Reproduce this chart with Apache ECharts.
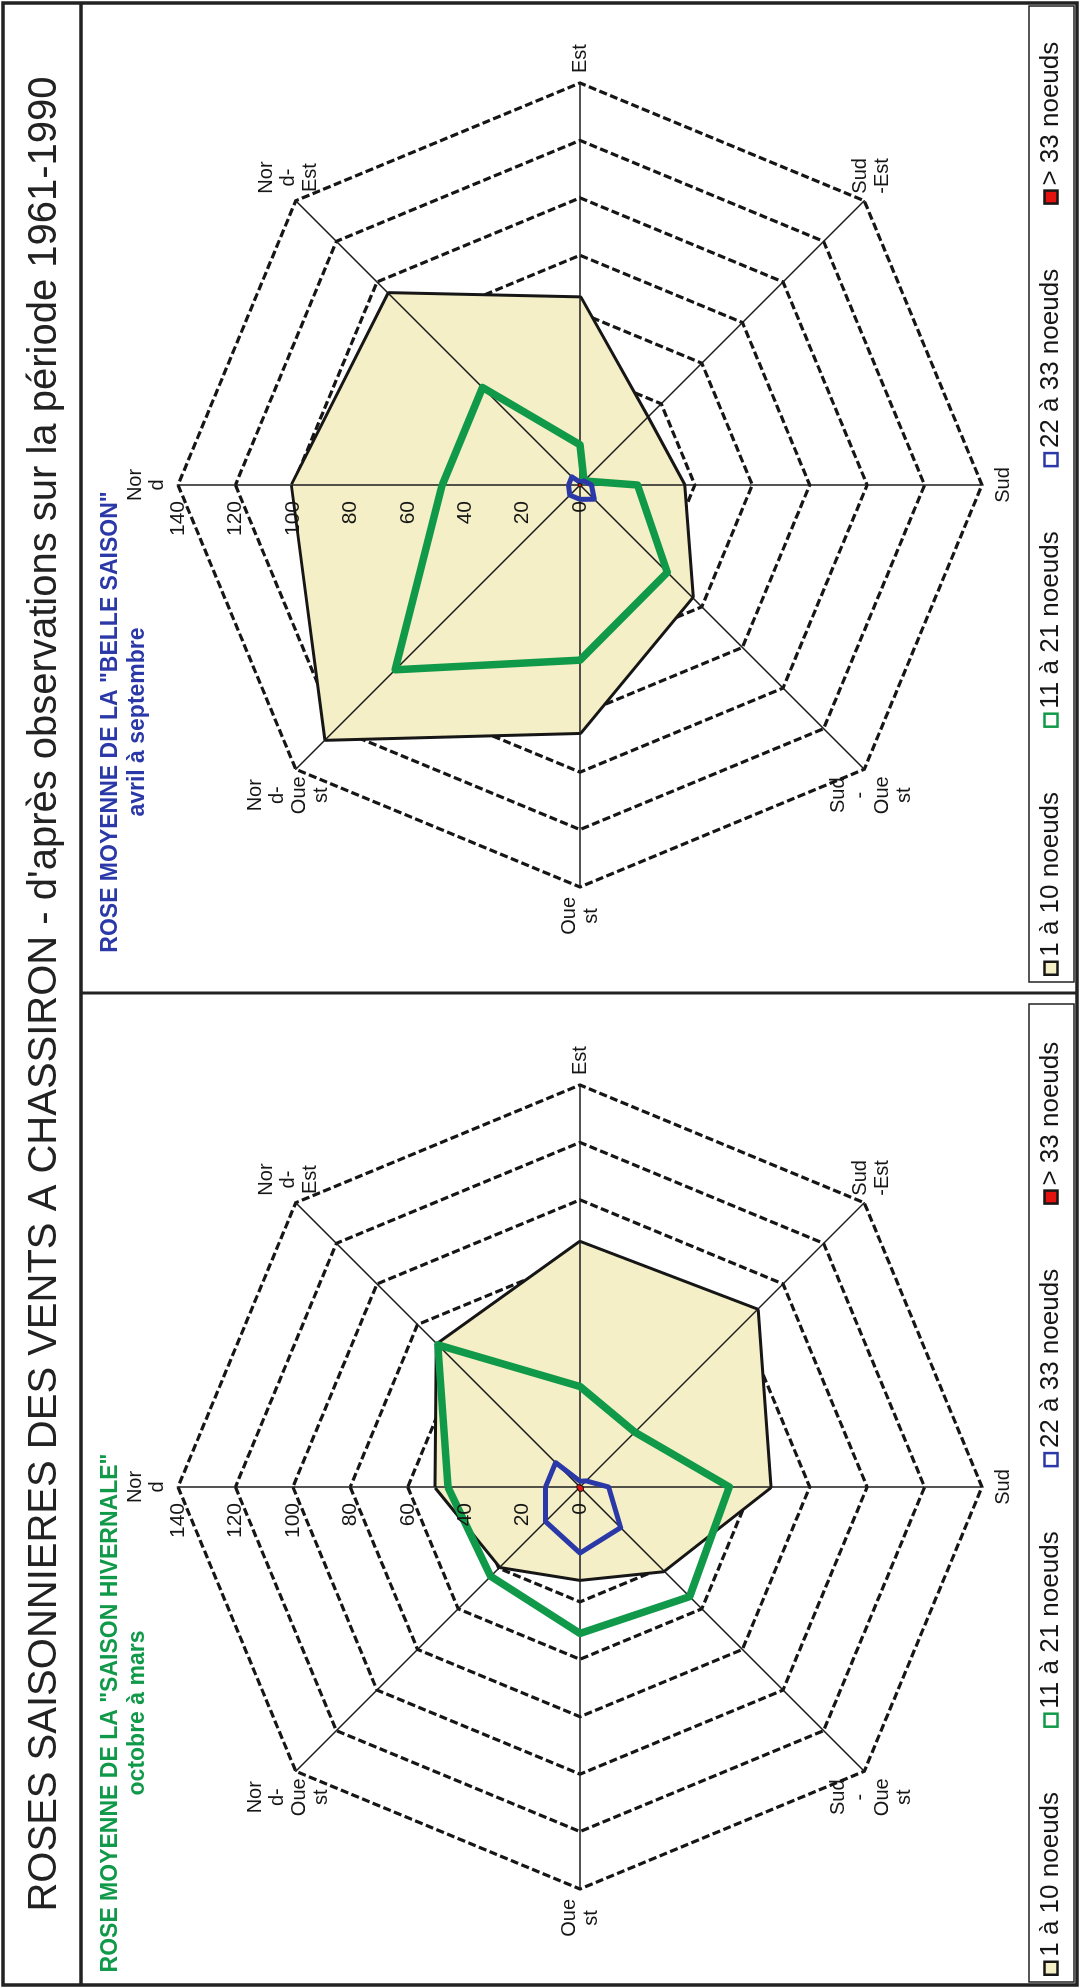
<!DOCTYPE html>
<html>
<head>
<meta charset="utf-8">
<script src="https://cdn.jsdelivr.net/npm/echarts@6/dist/echarts.min.js"></script>
<style>
  html, body { margin: 0; padding: 0; background: #fff; width: 1080px; height: 1988px; overflow: hidden; }
  /* The sheet is laid out landscape (1988 x 1080) and turned a quarter turn to the left */
  #sheet { position: absolute; left: 0; top: 0; width: 1988px; height: 1080px;
           transform-origin: 0 0; transform: translate(0, 1988px) rotate(-90deg); background: #fff; }
</style>
</head>
<body>
<div id="sheet"></div>
<script>
const FONT = '"Liberation Sans", Arial, Helvetica, sans-serif';

// Compass order: N, NE, E, SE, S, SW, W, NW (labels wrapped as printed)
const directions = ['Nor\nd', 'Nor\nd-\nEst', 'Est', 'Sud\n-Est', 'Sud', 'Sud\n-\nOue\nst', 'Oue\nst', 'Nor\nd-\nOue\nst'];
// ECharts lays radar axes counter-clockwise from the top: N, NW, W, SW, S, SE, E, NE
const radarOrder = [0, 7, 6, 5, 4, 3, 2, 1];

const speedClasses = ['1 à 10 noeuds', '11 à 21 noeuds', '22 à 33 noeuds', '> 33 noeuds'];
const scaleMax = 140;
const scaleSplits = 7;

// Saison hivernale (octobre à mars), compass order
const winter1to10  = [50, 70, 85, 87, 66, 41, 32, 39];
const winter11to21 = [46, 70, 35, 27, 52, 54, 51, 44];
const winter22to33 = [12, 12, 2, 3, 10, 20, 23, 17];
const winterOver33 = [1, 1, 0.5, 0.5, 1, 1.5, 1.5, 1];

// Belle saison (avril à septembre), compass order
const summer1to10  = [100, 94, 65, 33, 36, 55, 86, 125];
const summer11to21 = [48, 48, 14, 2, 20, 43, 61, 91];
const summer22to33 = [4, 4, 1, 2, 4, 7, 5, 5];
const summerOver33 = [0.5, 0.5, 0.3, 0.3, 0.5, 0.5, 0.5, 0.5];

const titleText = "ROSES SAISONNIERES DES VENTS A CHASSIRON - d'après observations sur la période 1961-1990";
const winterTitle = 'ROSE MOYENNE DE LA "SAISON HIVERNALE"';
const winterSub = 'octobre à mars';
const summerTitle = 'ROSE MOYENNE DE LA "BELLE SAISON"';
const summerSub = 'avril à septembre';

const BEIGE = '#F4EFC6', GREEN = '#11994A', BLUE = '#2B38A8', RED = '#E3120F', INK = '#161616';

// The filled area is painted over the inner half of its own outline, hence the wide stroke
const classStyles = [
  { z: 1, line: { color: INK, width: 6 }, area: { color: BEIGE, opacity: 1 } },
  { z: 2, line: { color: GREEN, width: 7.5 } },
  { z: 2, line: { color: BLUE, width: 5 } },
  { z: 2, line: { color: INK, width: 2 }, area: { color: RED, opacity: 1 } }
];
const legendIcons = [
  { color: BEIGE, borderColor: INK },
  { color: '#ffffff', borderColor: GREEN },
  { color: '#ffffff', borderColor: BLUE },
  { color: RED, borderColor: INK }
];

const CY = 580, R = 402;
const centersX = [501, 1503];

function wrapCentered(text) {
  return text.split('\n').map(s => '{c|' + s + '}').join('\n');
}

// Dashed octagonal rings and direction names
function ringRadar(cx) {
  return {
    center: [cx, CY], radius: R, startAngle: 90, shape: 'polygon', splitNumber: scaleSplits, z: 0,
    indicator: radarOrder.map(i => ({ name: directions[i], min: 0, max: scaleMax })),
    nameGap: 10,
    axisName: {
      formatter: wrapCentered,
      rich: { c: { align: 'center', fontSize: 20, lineHeight: 22, color: INK, fontFamily: FONT } }
    },
    axisLine: { show: false }, axisTick: { show: false }, axisLabel: { show: false },
    splitLine: { lineStyle: { color: INK, width: 3.2, type: [8, 3.5] } },
    splitArea: { show: false }
  };
}
// Spokes drawn above the filled class, below the lines
function spokeRadar(cx) {
  return {
    center: [cx, CY], radius: R, startAngle: 90, shape: 'polygon', splitNumber: scaleSplits, z: 1.5,
    indicator: radarOrder.map(i => ({ name: directions[i], min: 0, max: scaleMax })),
    axisName: { show: false },
    axisLine: { show: true, lineStyle: { color: '#1c1c1c', width: 1.5 } },
    axisTick: { show: false }, axisLabel: { show: false },
    splitLine: { show: false }, splitArea: { show: false }
  };
}
// Scale values along the north axis
function scaleRadar(cx) {
  return {
    center: [cx, CY], radius: R, startAngle: 90, shape: 'polygon', splitNumber: scaleSplits, z: 3,
    indicator: [{ name: '', min: 0, max: scaleMax }],
    axisName: { show: false },
    axisLine: { show: false }, axisTick: { show: false },
    axisLabel: { show: true, fontSize: 21, color: INK, fontFamily: FONT, margin: 16 },
    splitLine: { show: false }, splitArea: { show: false }
  };
}

function classSeries(radarIndex, classes) {
  return classes.map((vals, k) => ({
    type: 'radar', radarIndex: radarIndex, name: speedClasses[k], symbol: 'none', silent: true,
    z: classStyles[k].z,
    lineStyle: classStyles[k].line,
    areaStyle: classStyles[k].area,
    data: [{ name: speedClasses[k], value: radarOrder.map(i => vals[i]) }]
  }));
}

function legendFor(left) {
  return {
    left: left, top: 1038, padding: 0, itemWidth: 13, itemHeight: 13, itemGap: 64,
    selectedMode: false,
    textStyle: { fontSize: 26, color: INK, fontFamily: FONT },
    data: speedClasses.map((name, k) => ({
      name: name, icon: 'rect',
      itemStyle: { color: legendIcons[k].color, borderColor: legendIcons[k].borderColor, borderWidth: 2.5 }
    }))
  };
}

const chart = echarts.init(document.getElementById('sheet'), null, { width: 1988, height: 1080, renderer: 'canvas' });

chart.setOption({
  backgroundColor: '#ffffff',
  animation: false,
  textStyle: { fontFamily: FONT },
  title: [
    { text: titleText, left: 'center', top: 20,
      textStyle: { fontSize: 40, fontWeight: 'normal', color: '#222', fontFamily: FONT } },
    { text: winterTitle, subtext: winterSub, left: 270, top: 94, textAlign: 'center', itemGap: 4,
      textStyle: { fontSize: 23, fontWeight: 'bold', color: GREEN, fontFamily: FONT },
      subtextStyle: { fontSize: 23, fontWeight: 'bold', color: GREEN, fontFamily: FONT } },
    { text: summerTitle, subtext: summerSub, left: 1261, top: 94, textAlign: 'center', itemGap: 4,
      textStyle: { fontSize: 23, fontWeight: 'bold', color: BLUE, fontFamily: FONT },
      subtextStyle: { fontSize: 23, fontWeight: 'bold', color: BLUE, fontFamily: FONT } }
  ],
  legend: [legendFor(12), legendFor(1012)],
  radar: [
    ringRadar(centersX[0]), ringRadar(centersX[1]),
    spokeRadar(centersX[0]), spokeRadar(centersX[1]),
    scaleRadar(centersX[0]), scaleRadar(centersX[1])
  ],
  series: [].concat(
    classSeries(0, [winter1to10, winter11to21, winter22to33, winterOver33]),
    classSeries(1, [summer1to10, summer11to21, summer22to33, summerOver33])
  ),
  graphic: [
    { type: 'rect', z: 10, silent: true, shape: { x: 3, y: 3, width: 1982, height: 1074 },
      style: { fill: 'none', stroke: '#222', lineWidth: 3.5 } },
    { type: 'line', z: 10, silent: true, shape: { x1: 3, y1: 81, x2: 1985, y2: 81 },
      style: { stroke: '#222', lineWidth: 3.5 } },
    { type: 'line', z: 10, silent: true, shape: { x1: 995, y1: 81, x2: 995, y2: 1077 },
      style: { stroke: '#222', lineWidth: 3 } },
    { type: 'rect', z: 10, silent: true, shape: { x: 6, y: 1029, width: 978, height: 45 },
      style: { fill: 'none', stroke: '#222', lineWidth: 1.5 } },
    { type: 'rect', z: 10, silent: true, shape: { x: 1006, y: 1029, width: 976, height: 45 },
      style: { fill: 'none', stroke: '#222', lineWidth: 1.5 } }
  ]
});
</script>
</body>
</html>
